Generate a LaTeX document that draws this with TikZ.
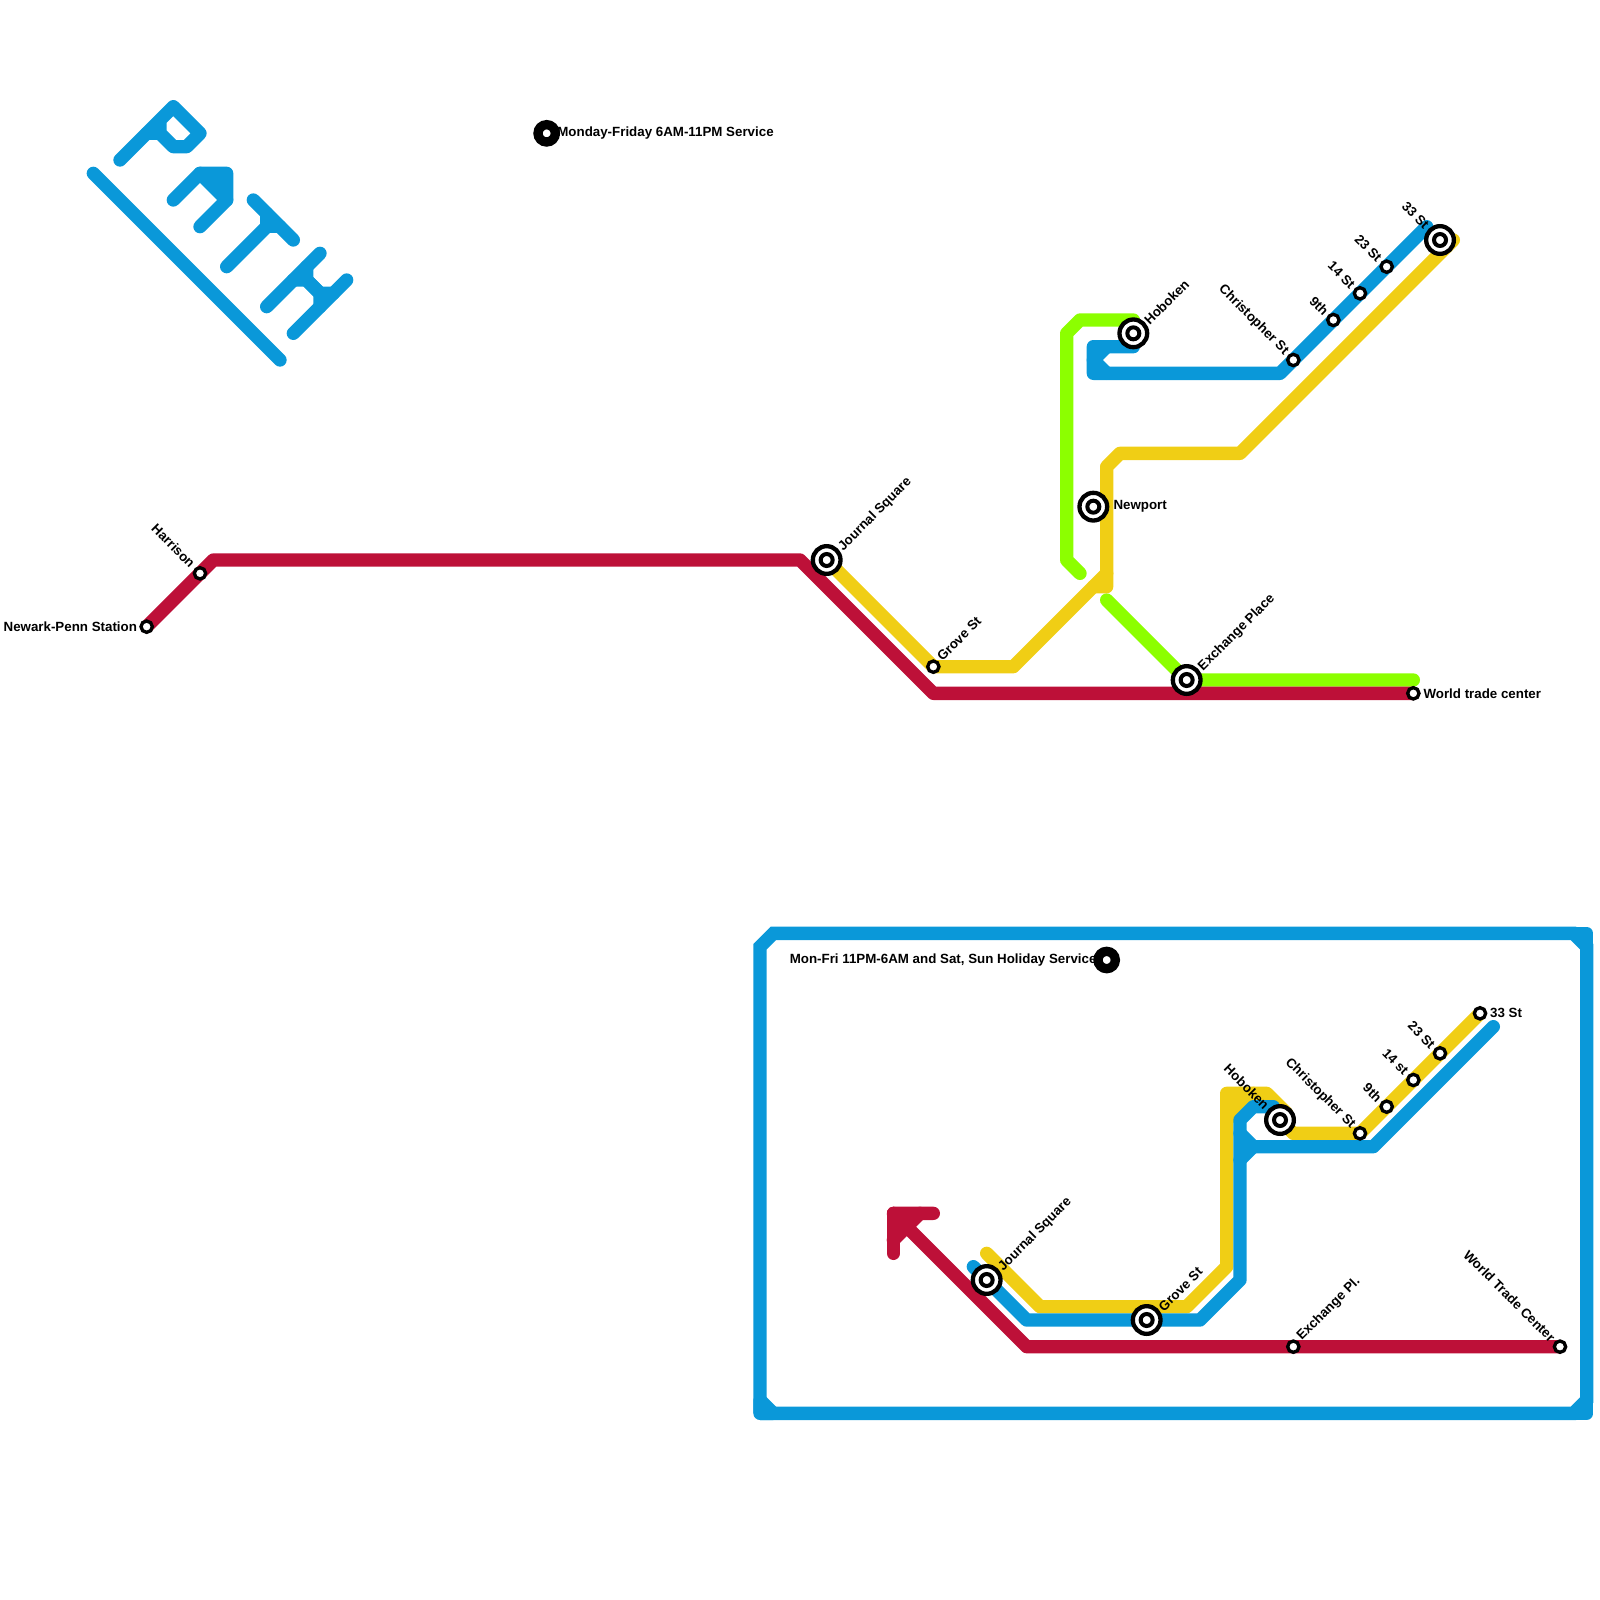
\documentclass[tikz,border=0pt]{standalone}
\usepackage{fontspec}
\setmainfont{Liberation Sans}[BoldFont=Liberation Sans Bold]
\definecolor{pblue}{HTML}{0A98D9}
\definecolor{pyellow}{HTML}{F0CE15}
\definecolor{pgreen}{HTML}{8CFF00}
\definecolor{pred}{HTML}{BD1038}
\tikzset{
  tline/.style={line width=13.33pt,line cap=round,line join=round},
  stn/.style={circle,draw=black,fill=white,line width=3.33pt,minimum size=11.33pt,inner sep=0pt},
  ichouter/.style={circle,draw=black,fill=white,line width=4.3pt,minimum size=27.7pt,inner sep=0pt},
  ichinner/.style={circle,draw=black,fill=white,line width=4pt,minimum size=12pt,inner sep=0pt},
  legdot/.style={circle,draw=black,fill=white,line width=9.33pt,minimum size=17.33pt,inner sep=0pt},
  lab/.style={font=\bfseries\fontsize{13.33}{15}\selectfont,inner sep=0pt,text=black},
  labup/.style={lab,rotate=45,anchor=west},
  labdn/.style={lab,rotate=-45,anchor=east},
  labr/.style={lab,anchor=west},
  labl/.style={lab,anchor=east},
}
\newcommand{\ichg}[2]{\node[ichouter] (#1) at (#2) {}; \node[ichinner] (#1in) at (#2) {};}
\begin{document}
\begin{tikzpicture}[x=13.3333pt,y=-13.3333pt]
\useasboundingbox (0,0) rectangle (120,120);
% named stops
\coordinate (sNewark) at (11,47); \coordinate (sHarrison) at (15,43);
\coordinate (sJsq) at (62,42); \coordinate (sGrove) at (70,50);
\coordinate (sNewport) at (82,38); \coordinate (sHob) at (85,25);
\coordinate (sExch) at (89,51); \coordinate (sWtc) at (106,52);
\coordinate (sChr) at (97,27); \coordinate (sNine) at (100,24);
\coordinate (sFourt) at (102,22); \coordinate (sTwen) at (104,20);
\coordinate (sThir) at (108,18);
\coordinate (nJsq) at (74,96); \coordinate (nGrove) at (86,99);
\coordinate (nHob) at (96,84); \coordinate (nExch) at (97,101);
\coordinate (nWtc) at (117,101); \coordinate (nChr) at (102,85);
\coordinate (nNine) at (104,83); \coordinate (nFourt) at (106,81);
\coordinate (nTwen) at (108,79); \coordinate (nThir) at (111,76);
% logo
\begin{scope}[tline,draw=pblue]
\draw (9,12) -- (13,8) -- (15,10) -- (14,11) -- (13,11) -- (12,10) -- (12,9);
\draw (11,10) -- (12,10);
\fill[pblue] (15,13) -- (17,13) -- (17,15) -- cycle;
\draw (13,15) -- (15,13) -- (17,13) -- (17,15) -- (15,17);
\draw (15,13) -- (17,15);
\draw (19,15) -- (22,18);
\draw (17,20) -- (20,17) -- (20,16);
\draw (20,17) -- (21,17);
\draw (20,23) -- (24,19);
\draw (22,25) -- (26,21);
\draw (23,20) -- (23,21) -- (24,22) -- (25,22);
\draw (22,21) -- (23,21) -- (24,22) -- (24,23);
\draw (7,13) -- (21,27);
\end{scope}
% frame
\draw[tline,pblue,line cap=butt,line join=miter] (57,106) -- (57,71) -- (58,70) -- (118,70) -- (119,71) -- (119,105) -- (118,106) -- (57,106);
\draw[tline,pblue] (118,70) -- (119,70) -- (119,71);
\draw[tline,pblue] (118,106) -- (119,106) -- (119,105);
\draw[tline,pblue] (57,105) -- (57,106) -- (58,106) -- cycle;
% upper map
\draw[tline,pgreen] (85,24) -- (81,24) -- (80,25) -- (80,42) -- (81,43);
\draw[tline,pgreen] (83,45) -- (sExch) -- (89,51) -- (106,51);
\draw[tline,pyellow] (sJsq) -- (sGrove) -- (76,50) -- (83,43);
\draw[tline,pyellow] (82,44) -- (83,44) -- (83,35) -- (84,34) -- (93,34) -- (109,18);
\draw[tline,pblue] (sHob |- 0,26) -- (82,26) -- (82,28) -- (96,28) -- (107,17);
\draw[tline,pblue] (83,26) -- (82,27) -- (83,28);
\draw[tline,pred] (sNewark) -- (sHarrison) -- (16,42) -- (60,42) -- (70,52) -- (sWtc);
% lower map
\draw[tline,pyellow] (74,94) -- (78,98) -- (89,98) -- (92,95) -- (92,82) -- (95,82) -- (96.5,83.5);
\draw[tline,pyellow] (92,84) -- (94,82);
\draw[tline,pyellow] (92,83) -- (93,82);
\draw[tline,pyellow] (nHob) -- (97,85) -- (nChr) -- (nThir);
\draw[tline,pblue] (73,95) -- (77,99) -- (90,99) -- (93,96) -- (93,84) -- (94,83) -- (95.5,83);
\draw[tline,pblue] (93,85) -- (94,86) -- (103,86) -- (112,77);
\draw[tline,pblue] (94,86) -- (93,87);
\draw[tline,pred] (70,91) -- (67,91) -- (77,101) -- (nExch) -- (nWtc);
\draw[tline,pred] (67,91) -- (67,94);
\draw[tline,pred] (69,91) -- (67,93);
% stations
\node[stn] (Newark) at (sNewark) {};
\node[stn] (Harrison) at (sHarrison) {};
\node[stn] (Grove) at (sGrove) {};
\node[stn] (Wtc) at (sWtc) {};
\node[stn] (Chr) at (sChr) {};
\node[stn] (Nine) at (sNine) {};
\node[stn] (Fourt) at (sFourt) {};
\node[stn] (Twen) at (sTwen) {};
\ichg{Jsq}{sJsq}
\ichg{Newport}{sNewport}
\ichg{Hob}{sHob}
\ichg{Exch}{sExch}
\ichg{Thir}{sThir}
\node[stn] (nExchS) at (nExch) {};
\node[stn] (nWtcS) at (nWtc) {};
\node[stn] (nChrS) at (nChr) {};
\node[stn] (nNineS) at (nNine) {};
\node[stn] (nFourtS) at (nFourt) {};
\node[stn] (nTwenS) at (nTwen) {};
\node[stn] (nThirS) at (nThir) {};
\ichg{nJsqS}{nJsq}
\ichg{nGroveS}{nGrove}
\ichg{nHobS}{nHob}
\node[legdot] (leg1) at (41,10) {};
\node[legdot] (leg2) at (83,72) {};
% labels
\node[labl] (tNewark) at ([xshift=-9.5pt]Newark.center) {Newark-Penn Station};
\node[labdn] (tHarrison) at ([xshift=-7pt,yshift=8pt]Harrison.center) {Harrison};
\node[labup] (tJsq) at ([xshift=14pt,yshift=11pt]Jsq.center) {Journal Square};
\node[labup] (tGrove) at ([xshift=6pt,yshift=8pt]Grove.center) {Grove St};
\node[labr] (tNewport) at ([xshift=20pt]Newport.center) {Newport};
\node[labup] (tHob) at ([xshift=13pt,yshift=11pt]Hob.center) {Hoboken};
\node[labup] (tExch) at ([xshift=14pt,yshift=11pt]Exch.center) {Exchange Place};
\node[labr] (tWtc) at ([xshift=10pt]Wtc.center) {World trade center};
\node[labdn] (tChr) at ([xshift=-7pt,yshift=7pt]Chr.center) {Christopher St};
\node[labdn] (tNine) at ([xshift=-7pt,yshift=7pt]Nine.center) {9th};
\node[labdn] (tFourt) at ([xshift=-7pt,yshift=7pt]Fourt.center) {14 St};
\node[labdn] (tTwen) at ([xshift=-7pt,yshift=7pt]Twen.center) {23 St};
\node[labdn] (tThir) at ([xshift=-13pt,yshift=13pt]Thir.center) {33 St};
\node[labr] (tLeg1) at ([xshift=10.5pt]leg1.center) {Monday-Friday 6AM-11PM Service};
\node[labl] (tLeg2) at ([xshift=-10pt]leg2.center) {Mon-Fri 11PM-6AM and Sat, Sun Holiday Service};
\node[labup] (tnJsq) at ([xshift=14pt,yshift=11pt]nJsqS.center) {Journal Square};
\node[labup] (tnGrove) at ([xshift=14pt,yshift=11pt]nGroveS.center) {Grove St};
\node[labdn] (tnHob) at ([xshift=-13pt,yshift=13pt]nHobS.center) {Hoboken};
\node[labup] (tnExch) at ([xshift=6pt,yshift=8pt]nExchS.center) {Exchange Pl.};
\node[labdn] (tnWtc) at ([xshift=-7pt,yshift=7pt]nWtcS.center) {World Trade Center};
\node[labdn] (tnChr) at ([xshift=-7pt,yshift=7pt]nChrS.center) {Christopher St};
\node[labdn] (tnNine) at ([xshift=-7pt,yshift=7pt]nNineS.center) {9th};
\node[labdn] (tnFourt) at ([xshift=-7pt,yshift=7pt]nFourtS.center) {14 st};
\node[labdn] (tnTwen) at ([xshift=-7pt,yshift=7pt]nTwenS.center) {23 St};
\node[labr] (tnThir) at ([xshift=10pt]nThirS.center) {33 St};
\end{tikzpicture}
\end{document}
